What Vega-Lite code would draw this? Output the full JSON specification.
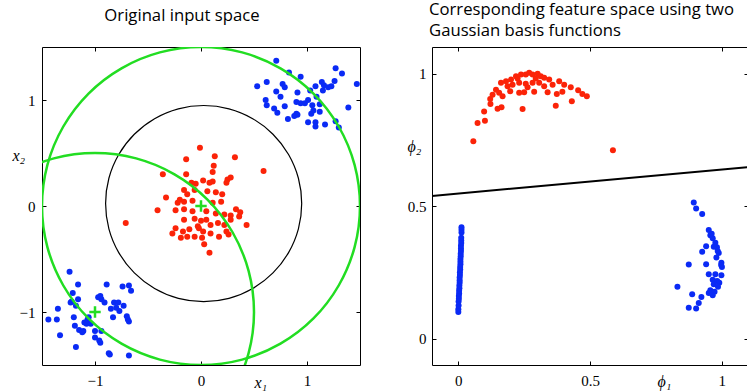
{
  "$schema": "https://vega.github.io/schema/vega-lite/v6.json",
  "background": "white",
  "padding": {"left": 11, "top": 1, "right": 0, "bottom": 0},
  "bounds": "flush",
  "spacing": 72,
  "config": {
    "view": {"stroke": "black", "strokeWidth": 1},
    "axis": {"domain": false, "grid": false, "tickColor": "black", "tickWidth": 1, "labelFont": "Liberation Serif", "labelFontSize": 15, "labelColor": "black", "titleFont": "Liberation Serif", "titleFontStyle": "italic", "titleFontWeight": "normal", "titleFontSize": 16, "titleColor": "black"},
    "title": {"font": "Open Sans", "fontSize": 16.7, "fontWeight": "normal", "color": "black", "frame": "group"}
  },
  "datasets": {
    "leftPts": [
      {"x": -0.01, "y": 0.55, "c": "r"}, {"x": 0.13, "y": 0.47, "c": "r"}, {"x": 0.32, "y": 0.46, "c": "r"}, {"x": -0.14, "y": 0.44, "c": "r"}, {"x": 0.59, "y": 0.33, "c": "r"}, {"x": 0.12, "y": 0.38, "c": "r"}, {"x": 0.11, "y": 0.32, "c": "r"}, {"x": -0.36, "y": 0.30, "c": "r"}, {"x": -0.14, "y": 0.30, "c": "r"}, {"x": 0.25, "y": 0.25, "c": "r"}, {"x": 0.24, "y": 0.22, "c": "r"}, {"x": 0.11, "y": 0.23, "c": "r"}, {"x": 0.02, "y": 0.24, "c": "r"}, {"x": -0.05, "y": 0.21, "c": "r"}, {"x": -0.09, "y": 0.22, "c": "r"}, {"x": -0.16, "y": 0.15, "c": "r"}, {"x": -0.06, "y": 0.15, "c": "r"}, {"x": 0.06, "y": 0.14, "c": "r"}, {"x": 0.14, "y": 0.13, "c": "r"}, {"x": 0.20, "y": 0.11, "c": "r"}, {"x": -0.33, "y": 0.08, "c": "r"}, {"x": -0.20, "y": 0.06, "c": "r"}, {"x": -0.16, "y": 0.04, "c": "r"}, {"x": -0.08, "y": 0.05, "c": "r"}, {"x": 0.19, "y": 0.04, "c": "r"}, {"x": 0.11, "y": 0.03, "c": "r"}, {"x": -0.41, "y": -0.04, "c": "r"}, {"x": -0.24, "y": -0.04, "c": "r"}, {"x": -0.16, "y": -0.03, "c": "r"}, {"x": -0.08, "y": -0.05, "c": "r"}, {"x": 0.05, "y": -0.05, "c": "r"}, {"x": 0.14, "y": -0.07, "c": "r"}, {"x": 0.22, "y": -0.08, "c": "r"}, {"x": 0.33, "y": -0.03, "c": "r"}, {"x": 0.37, "y": -0.06, "c": "r"}, {"x": 0.28, "y": -0.09, "c": "r"}, {"x": 0.36, "y": -0.10, "c": "r"}, {"x": -0.16, "y": -0.13, "c": "r"}, {"x": -0.06, "y": -0.12, "c": "r"}, {"x": 0.00, "y": -0.14, "c": "r"}, {"x": 0.05, "y": -0.13, "c": "r"}, {"x": 0.09, "y": -0.18, "c": "r"}, {"x": 0.16, "y": -0.16, "c": "r"}, {"x": 0.22, "y": -0.18, "c": "r"}, {"x": 0.43, "y": -0.18, "c": "r"}, {"x": -0.24, "y": -0.21, "c": "r"}, {"x": -0.11, "y": -0.22, "c": "r"}, {"x": -0.02, "y": -0.21, "c": "r"}, {"x": 0.02, "y": -0.24, "c": "r"}, {"x": -0.27, "y": -0.26, "c": "r"}, {"x": -0.17, "y": -0.24, "c": "r"}, {"x": 0.09, "y": -0.26, "c": "r"}, {"x": 0.24, "y": -0.24, "c": "r"}, {"x": -0.06, "y": -0.29, "c": "r"}, {"x": 0.01, "y": -0.30, "c": "r"}, {"x": -0.19, "y": -0.30, "c": "r"}, {"x": 0.17, "y": -0.29, "c": "r"}, {"x": 0.26, "y": -0.27, "c": "r"}, {"x": 0.03, "y": -0.36, "c": "r"}, {"x": -0.71, "y": -0.16, "c": "r"}, {"x": 0.08, "y": -0.44, "c": "r"}, {"x": 0.28, "y": 0.27, "c": "r"}, {"x": 0.08, "y": 0.22, "c": "r"}, {"x": -0.13, "y": 0.11, "c": "r"}, {"x": -0.22, "y": 0.03, "c": "r"}, {"x": 0.28, "y": -0.13, "c": "r"}, {"x": -0.03, "y": -0.19, "c": "r"}, {"x": -0.13, "y": -0.29, "c": "r"},
      {"x": 0.71, "y": 1.37, "c": "b"}, {"x": 0.83, "y": 1.26, "c": "b"}, {"x": 0.94, "y": 1.22, "c": "b"}, {"x": 0.53, "y": 1.13, "c": "b"}, {"x": 0.62, "y": 1.17, "c": "b"}, {"x": 0.77, "y": 1.15, "c": "b"}, {"x": 0.79, "y": 1.12, "c": "b"}, {"x": 0.71, "y": 1.08, "c": "b"}, {"x": 0.75, "y": 1.03, "c": "b"}, {"x": 0.61, "y": 1.00, "c": "b"}, {"x": 0.62, "y": 0.95, "c": "b"}, {"x": 0.69, "y": 0.92, "c": "b"}, {"x": 0.72, "y": 0.88, "c": "b"}, {"x": 0.79, "y": 0.94, "c": "b"}, {"x": 0.91, "y": 1.07, "c": "b"}, {"x": 0.90, "y": 0.98, "c": "b"}, {"x": 0.94, "y": 0.97, "c": "b"}, {"x": 0.98, "y": 0.97, "c": "b"}, {"x": 1.01, "y": 1.00, "c": "b"}, {"x": 1.03, "y": 1.09, "c": "b"}, {"x": 1.08, "y": 1.13, "c": "b"}, {"x": 1.09, "y": 1.03, "c": "b"}, {"x": 1.05, "y": 0.95, "c": "b"}, {"x": 1.12, "y": 0.96, "c": "b"}, {"x": 1.14, "y": 1.17, "c": "b"}, {"x": 1.16, "y": 1.14, "c": "b"}, {"x": 1.15, "y": 1.09, "c": "b"}, {"x": 1.20, "y": 1.12, "c": "b"}, {"x": 1.23, "y": 1.13, "c": "b"}, {"x": 1.26, "y": 1.18, "c": "b"}, {"x": 1.27, "y": 1.30, "c": "b"}, {"x": 1.33, "y": 1.25, "c": "b"}, {"x": 1.47, "y": 1.15, "c": "b"}, {"x": 1.39, "y": 0.93, "c": "b"}, {"x": 1.06, "y": 0.90, "c": "b"}, {"x": 1.04, "y": 0.87, "c": "b"}, {"x": 0.90, "y": 0.87, "c": "b"}, {"x": 0.91, "y": 0.86, "c": "b"}, {"x": 0.88, "y": 0.85, "c": "b"}, {"x": 0.82, "y": 0.82, "c": "b"}, {"x": 1.01, "y": 0.79, "c": "b"}, {"x": 1.08, "y": 0.79, "c": "b"}, {"x": 1.08, "y": 0.75, "c": "b"}, {"x": 1.17, "y": 0.77, "c": "b"}, {"x": 1.27, "y": 0.80, "c": "b"}, {"x": 1.30, "y": 0.74, "c": "b"}, {"x": 1.12, "y": 0.89, "c": "b"},
      {"x": -1.24, "y": -0.62, "c": "b"}, {"x": -1.16, "y": -0.74, "c": "b"}, {"x": -1.21, "y": -0.82, "c": "b"}, {"x": -1.16, "y": -0.88, "c": "b"}, {"x": -1.23, "y": -0.91, "c": "b"}, {"x": -1.18, "y": -0.94, "c": "b"}, {"x": -1.35, "y": -0.97, "c": "b"}, {"x": -1.44, "y": -1.07, "c": "b"}, {"x": -1.36, "y": -1.07, "c": "b"}, {"x": -1.20, "y": -1.05, "c": "b"}, {"x": -1.33, "y": -1.22, "c": "b"}, {"x": -1.18, "y": -1.33, "c": "b"}, {"x": -1.15, "y": -1.17, "c": "b"}, {"x": -1.11, "y": -1.18, "c": "b"}, {"x": -1.07, "y": -1.07, "c": "b"}, {"x": -1.08, "y": -1.11, "c": "b"}, {"x": -1.04, "y": -1.11, "c": "b"}, {"x": -1.00, "y": -1.18, "c": "b"}, {"x": -1.00, "y": -1.24, "c": "b"}, {"x": -0.96, "y": -1.27, "c": "b"}, {"x": -0.94, "y": -1.18, "c": "b"}, {"x": -0.97, "y": -0.86, "c": "b"}, {"x": -0.94, "y": -0.88, "c": "b"}, {"x": -0.89, "y": -0.74, "c": "b"}, {"x": -0.91, "y": -0.91, "c": "b"}, {"x": -0.85, "y": -0.97, "c": "b"}, {"x": -0.82, "y": -0.91, "c": "b"}, {"x": -0.78, "y": -0.91, "c": "b"}, {"x": -0.77, "y": -0.99, "c": "b"}, {"x": -0.83, "y": -1.05, "c": "b"}, {"x": -0.74, "y": -0.76, "c": "b"}, {"x": -0.68, "y": -0.75, "c": "b"}, {"x": -0.66, "y": -0.80, "c": "b"}, {"x": -0.70, "y": -1.04, "c": "b"}, {"x": -0.68, "y": -1.09, "c": "b"}, {"x": -0.86, "y": -1.40, "c": "b"}, {"x": -0.68, "y": -1.41, "c": "b"}, {"x": -0.87, "y": -1.39, "c": "b"}, {"x": -0.80, "y": -0.96, "c": "b"}, {"x": -1.12, "y": -1.19, "c": "b"}, {"x": -0.95, "y": -1.29, "c": "b"}, {"x": -1.19, "y": -1.13, "c": "b"}, {"x": -1.10, "y": -1.10, "c": "b"}, {"x": -1.06, "y": -1.05, "c": "b"}, {"x": -0.95, "y": -0.85, "c": "b"}, {"x": -0.73, "y": -0.94, "c": "b"}, {"x": -0.69, "y": -1.07, "c": "b"}, {"x": -1.22, "y": -0.90, "c": "b"}
    ],
    "greenCircles": [
      {"circle": "A", "i": 0, "x": 1.5, "y": 0}, {"circle": "A", "i": 1, "x": 1.449, "y": 0.388}, {"circle": "A", "i": 2, "x": 1.299, "y": 0.75}, {"circle": "A", "i": 3, "x": 1.061, "y": 1.061}, {"circle": "A", "i": 4, "x": 0.75, "y": 1.299}, {"circle": "A", "i": 5, "x": 0.388, "y": 1.449}, {"circle": "A", "i": 6, "x": 0, "y": 1.5}, {"circle": "A", "i": 7, "x": -0.388, "y": 1.449}, {"circle": "A", "i": 8, "x": -0.75, "y": 1.299}, {"circle": "A", "i": 9, "x": -1.061, "y": 1.061}, {"circle": "A", "i": 10, "x": -1.299, "y": 0.75}, {"circle": "A", "i": 11, "x": -1.449, "y": 0.388}, {"circle": "A", "i": 12, "x": -1.5, "y": 0}, {"circle": "A", "i": 13, "x": -1.449, "y": -0.388}, {"circle": "A", "i": 14, "x": -1.299, "y": -0.75}, {"circle": "A", "i": 15, "x": -1.061, "y": -1.061}, {"circle": "A", "i": 16, "x": -0.75, "y": -1.299}, {"circle": "A", "i": 17, "x": -0.388, "y": -1.449}, {"circle": "A", "i": 18, "x": 0, "y": -1.5}, {"circle": "A", "i": 19, "x": 0.388, "y": -1.449}, {"circle": "A", "i": 20, "x": 0.75, "y": -1.299}, {"circle": "A", "i": 21, "x": 1.061, "y": -1.061}, {"circle": "A", "i": 22, "x": 1.299, "y": -0.75}, {"circle": "A", "i": 23, "x": 1.449, "y": -0.388},
      {"circle": "B", "i": 0, "x": 0.5, "y": -1}, {"circle": "B", "i": 1, "x": 0.449, "y": -0.612}, {"circle": "B", "i": 2, "x": 0.299, "y": -0.25}, {"circle": "B", "i": 3, "x": 0.061, "y": 0.061}, {"circle": "B", "i": 4, "x": -0.25, "y": 0.299}, {"circle": "B", "i": 5, "x": -0.612, "y": 0.449}, {"circle": "B", "i": 6, "x": -1, "y": 0.5}, {"circle": "B", "i": 7, "x": -1.388, "y": 0.449}, {"circle": "B", "i": 8, "x": -1.75, "y": 0.299}, {"circle": "B", "i": 9, "x": -2.061, "y": 0.061}, {"circle": "B", "i": 10, "x": -2.299, "y": -0.25}, {"circle": "B", "i": 11, "x": -2.449, "y": -0.612}, {"circle": "B", "i": 12, "x": -2.5, "y": -1}, {"circle": "B", "i": 13, "x": -2.449, "y": -1.388}, {"circle": "B", "i": 14, "x": -2.299, "y": -1.75}, {"circle": "B", "i": 15, "x": -2.061, "y": -2.061}, {"circle": "B", "i": 16, "x": -1.75, "y": -2.299}, {"circle": "B", "i": 17, "x": -1.388, "y": -2.449}, {"circle": "B", "i": 18, "x": -1, "y": -2.5}, {"circle": "B", "i": 19, "x": -0.612, "y": -2.449}, {"circle": "B", "i": 20, "x": -0.25, "y": -2.299}, {"circle": "B", "i": 21, "x": 0.061, "y": -2.061}, {"circle": "B", "i": 22, "x": 0.299, "y": -1.75}, {"circle": "B", "i": 23, "x": 0.449, "y": -1.388}
    ],
    "blackCircle": [
      {"i": 0, "x": 0.950, "y": 0.023}, {"i": 1, "x": 0.919, "y": 0.262}, {"i": 2, "x": 0.826, "y": 0.486}, {"i": 3, "x": 0.679, "y": 0.677}, {"i": 4, "x": 0.488, "y": 0.824}, {"i": 5, "x": 0.264, "y": 0.917}, {"i": 6, "x": 0.025, "y": 0.948}, {"i": 7, "x": -0.214, "y": 0.917}, {"i": 8, "x": -0.438, "y": 0.824}, {"i": 9, "x": -0.629, "y": 0.677}, {"i": 10, "x": -0.776, "y": 0.486}, {"i": 11, "x": -0.869, "y": 0.262}, {"i": 12, "x": -0.900, "y": 0.023}, {"i": 13, "x": -0.869, "y": -0.216}, {"i": 14, "x": -0.776, "y": -0.440}, {"i": 15, "x": -0.629, "y": -0.631}, {"i": 16, "x": -0.438, "y": -0.778}, {"i": 17, "x": -0.214, "y": -0.871}, {"i": 18, "x": 0.025, "y": -0.902}, {"i": 19, "x": 0.264, "y": -0.871}, {"i": 20, "x": 0.488, "y": -0.778}, {"i": 21, "x": 0.679, "y": -0.631}, {"i": 22, "x": 0.826, "y": -0.440}, {"i": 23, "x": 0.919, "y": -0.216}
    ],
    "centers": [{"x": 0, "y": 0}, {"x": -1, "y": -1}],
    "rightPts": [
      {"p1": 0.057, "p2": 0.744, "c": "r"}, {"p1": 0.073, "p2": 0.813, "c": "r"}, {"p1": 0.101, "p2": 0.822, "c": "r"}, {"p1": 0.098, "p2": 0.857, "c": "r"}, {"p1": 0.149, "p2": 0.867, "c": "r"}, {"p1": 0.164, "p2": 0.873, "c": "r"}, {"p1": 0.244, "p2": 0.866, "c": "r"}, {"p1": 0.370, "p2": 0.878, "c": "r"}, {"p1": 0.431, "p2": 0.895, "c": "r"}, {"p1": 0.121, "p2": 0.904, "c": "r"}, {"p1": 0.130, "p2": 0.920, "c": "r"}, {"p1": 0.143, "p2": 0.939, "c": "r"}, {"p1": 0.155, "p2": 0.927, "c": "r"}, {"p1": 0.168, "p2": 0.914, "c": "r"}, {"p1": 0.197, "p2": 0.933, "c": "r"}, {"p1": 0.231, "p2": 0.927, "c": "r"}, {"p1": 0.250, "p2": 0.929, "c": "r"}, {"p1": 0.288, "p2": 0.931, "c": "r"}, {"p1": 0.339, "p2": 0.929, "c": "r"}, {"p1": 0.374, "p2": 0.923, "c": "r"}, {"p1": 0.162, "p2": 0.965, "c": "r"}, {"p1": 0.181, "p2": 0.971, "c": "r"}, {"p1": 0.200, "p2": 0.977, "c": "r"}, {"p1": 0.219, "p2": 0.990, "c": "r"}, {"p1": 0.238, "p2": 0.996, "c": "r"}, {"p1": 0.256, "p2": 0.996, "c": "r"}, {"p1": 0.269, "p2": 1.003, "c": "r"}, {"p1": 0.282, "p2": 0.996, "c": "r"}, {"p1": 0.301, "p2": 0.999, "c": "r"}, {"p1": 0.313, "p2": 0.990, "c": "r"}, {"p1": 0.326, "p2": 0.984, "c": "r"}, {"p1": 0.345, "p2": 0.977, "c": "r"}, {"p1": 0.206, "p2": 0.958, "c": "r"}, {"p1": 0.231, "p2": 0.965, "c": "r"}, {"p1": 0.256, "p2": 0.961, "c": "r"}, {"p1": 0.282, "p2": 0.965, "c": "r"}, {"p1": 0.307, "p2": 0.965, "c": "r"}, {"p1": 0.225, "p2": 0.981, "c": "r"}, {"p1": 0.294, "p2": 0.981, "c": "r"}, {"p1": 0.187, "p2": 0.952, "c": "r"}, {"p1": 0.263, "p2": 0.948, "c": "r"}, {"p1": 0.326, "p2": 0.952, "c": "r"}, {"p1": 0.358, "p2": 0.958, "c": "r"}, {"p1": 0.383, "p2": 0.971, "c": "r"}, {"p1": 0.402, "p2": 0.958, "c": "r"}, {"p1": 0.427, "p2": 0.948, "c": "r"}, {"p1": 0.455, "p2": 0.937, "c": "r"}, {"p1": 0.471, "p2": 0.923, "c": "r"}, {"p1": 0.488, "p2": 0.914, "c": "r"}, {"p1": 0.395, "p2": 0.931, "c": "r"}, {"p1": 0.587, "p2": 0.710, "c": "r"}, {"p1": 0.122, "p2": 0.885, "c": "r"},
      {"p1": 0.000, "p2": 0.100, "c": "b"}, {"p1": 0.000, "p2": 0.110, "c": "b"}, {"p1": 0.001, "p2": 0.125, "c": "b"}, {"p1": 0.001, "p2": 0.140, "c": "b"}, {"p1": 0.002, "p2": 0.150, "c": "b"}, {"p1": 0.002, "p2": 0.160, "c": "b"}, {"p1": 0.003, "p2": 0.170, "c": "b"}, {"p1": 0.003, "p2": 0.180, "c": "b"}, {"p1": 0.004, "p2": 0.190, "c": "b"}, {"p1": 0.004, "p2": 0.200, "c": "b"}, {"p1": 0.005, "p2": 0.210, "c": "b"}, {"p1": 0.005, "p2": 0.220, "c": "b"}, {"p1": 0.005, "p2": 0.230, "c": "b"}, {"p1": 0.006, "p2": 0.240, "c": "b"}, {"p1": 0.006, "p2": 0.250, "c": "b"}, {"p1": 0.007, "p2": 0.260, "c": "b"}, {"p1": 0.007, "p2": 0.270, "c": "b"}, {"p1": 0.008, "p2": 0.280, "c": "b"}, {"p1": 0.008, "p2": 0.290, "c": "b"}, {"p1": 0.008, "p2": 0.300, "c": "b"}, {"p1": 0.009, "p2": 0.310, "c": "b"}, {"p1": 0.009, "p2": 0.320, "c": "b"}, {"p1": 0.010, "p2": 0.330, "c": "b"}, {"p1": 0.010, "p2": 0.340, "c": "b"}, {"p1": 0.010, "p2": 0.350, "c": "b"}, {"p1": 0.011, "p2": 0.360, "c": "b"}, {"p1": 0.011, "p2": 0.370, "c": "b"}, {"p1": 0.011, "p2": 0.380, "c": "b"}, {"p1": 0.012, "p2": 0.400, "c": "b"}, {"p1": 0.012, "p2": 0.410, "c": "b"}, {"p1": 0.012, "p2": 0.420, "c": "b"},
      {"p1": 0.894, "p2": 0.513, "c": "b"}, {"p1": 0.903, "p2": 0.491, "c": "b"}, {"p1": 0.926, "p2": 0.470, "c": "b"}, {"p1": 0.951, "p2": 0.409, "c": "b"}, {"p1": 0.957, "p2": 0.390, "c": "b"}, {"p1": 0.966, "p2": 0.378, "c": "b"}, {"p1": 0.976, "p2": 0.361, "c": "b"}, {"p1": 0.941, "p2": 0.348, "c": "b"}, {"p1": 0.926, "p2": 0.327, "c": "b"}, {"p1": 0.982, "p2": 0.344, "c": "b"}, {"p1": 0.970, "p2": 0.346, "c": "b"}, {"p1": 0.989, "p2": 0.323, "c": "b"}, {"p1": 0.980, "p2": 0.306, "c": "b"}, {"p1": 0.999, "p2": 0.286, "c": "b"}, {"p1": 1.001, "p2": 0.270, "c": "b"}, {"p1": 0.875, "p2": 0.279, "c": "b"}, {"p1": 0.941, "p2": 0.280, "c": "b"}, {"p1": 0.951, "p2": 0.242, "c": "b"}, {"p1": 0.976, "p2": 0.242, "c": "b"}, {"p1": 0.999, "p2": 0.239, "c": "b"}, {"p1": 0.966, "p2": 0.222, "c": "b"}, {"p1": 0.983, "p2": 0.217, "c": "b"}, {"p1": 0.991, "p2": 0.210, "c": "b"}, {"p1": 0.970, "p2": 0.205, "c": "b"}, {"p1": 0.957, "p2": 0.182, "c": "b"}, {"p1": 0.951, "p2": 0.172, "c": "b"}, {"p1": 0.973, "p2": 0.176, "c": "b"}, {"p1": 0.966, "p2": 0.163, "c": "b"}, {"p1": 0.832, "p2": 0.195, "c": "b"}, {"p1": 0.888, "p2": 0.167, "c": "b"}, {"p1": 0.923, "p2": 0.157, "c": "b"}, {"p1": 0.913, "p2": 0.134, "c": "b"}, {"p1": 0.903, "p2": 0.113, "c": "b"}, {"p1": 0.875, "p2": 0.116, "c": "b"}, {"p1": 0.986, "p2": 0.195, "c": "b"}, {"p1": 0.998, "p2": 0.277, "c": "b"}, {"p1": 0.985, "p2": 0.330, "c": "b"}, {"p1": 0.962, "p2": 0.395, "c": "b"}
    ],
    "boundary": [{"p1": -0.1, "p2": 0.538}, {"p1": 1.1, "p2": 0.647}]
  },
  "hconcat": [
    {
      "width": 318,
      "height": 318,
      "title": {"text": "Original input space", "anchor": "middle", "dx": -19, "offset": 9, "baseline": "alphabetic"},
      "layer": [
        {
          "data": {"name": "leftPts"},
          "mark": {"type": "circle", "size": 36, "opacity": 1},
          "encoding": {
            "x": {"field": "x", "type": "quantitative", "scale": {"domain": [-1.5, 1.5], "nice": false, "zero": false}, "axis": {"orient": "bottom", "values": [-1, 0, 1], "format": "~g", "title": "x₁", "offset": -4, "tickSize": 4, "labelPadding": 8, "titleX": 212, "titleY": 26, "titleAlign": "left", "titleBaseline": "alphabetic"}},
            "y": {"field": "y", "type": "quantitative", "scale": {"domain": [-1.5, 1.5], "nice": false, "zero": false}, "axis": {"orient": "left", "values": [-1, 0, 1], "format": "~g", "title": "x₂", "offset": -4, "tickSize": 4, "labelPadding": 7, "titleX": -34, "titleY": 108, "titleAngle": 0, "titleAlign": "left", "titleBaseline": "middle"}},
            "color": {"field": "c", "type": "nominal", "scale": {"domain": ["r", "b"], "range": ["#fb2308", "#0a2af5"]}, "legend": null}
          }
        },
        {
          "data": {"name": "blackCircle"},
          "mark": {"type": "line", "clip": true, "color": "black", "strokeWidth": 1.2, "interpolate": "cardinal-closed"},
          "encoding": {
            "x": {"field": "x", "type": "quantitative", "axis": null},
            "y": {"field": "y", "type": "quantitative", "axis": null},
            "order": {"field": "i"}
          }
        },
        {
          "data": {"name": "greenCircles"},
          "mark": {"type": "line", "clip": true, "color": "#22dd22", "strokeWidth": 2.5, "interpolate": "cardinal-closed"},
          "encoding": {
            "x": {"field": "x", "type": "quantitative", "axis": {"orient": "top", "values": [-1, 0, 1], "labels": false, "title": null, "offset": -4, "tickSize": 4}},
            "y": {"field": "y", "type": "quantitative", "axis": {"orient": "right", "values": [-1, 0, 1], "labels": false, "title": null, "offset": -4, "tickSize": 4}},
            "detail": {"field": "circle"},
            "order": {"field": "i"}
          }
        },
        {
          "data": {"name": "centers"},
          "mark": {"type": "point", "shape": "M-1,0L1,0M0,-1L0,1", "filled": false, "stroke": "#22dd22", "strokeWidth": 2.5, "size": 130, "opacity": 1},
          "encoding": {
            "x": {"field": "x", "type": "quantitative", "axis": null},
            "y": {"field": "y", "type": "quantitative", "axis": null}
          }
        }
      ],
      "resolve": {"axis": {"x": "independent", "y": "independent"}}
    },
    {
      "width": 316,
      "height": 318,
      "title": {"text": ["Corresponding feature space using two", "Gaussian basis functions"], "anchor": "start", "dx": -3, "offset": -10, "baseline": "bottom", "lineHeight": 21},
      "layer": [
        {
          "data": {"name": "rightPts"},
          "mark": {"type": "circle", "size": 36, "opacity": 1},
          "encoding": {
            "x": {"field": "p1", "type": "quantitative", "scale": {"domain": [-0.1, 1.1], "nice": false, "zero": false}, "axis": {"orient": "bottom", "values": [0, 0.5, 1], "format": "~g", "title": "ϕ₁", "offset": -4, "tickSize": 4, "labelPadding": 8, "titleX": 225, "titleY": 25, "titleAlign": "left", "titleBaseline": "alphabetic"}},
            "y": {"field": "p2", "type": "quantitative", "scale": {"domain": [-0.1, 1.1], "nice": false, "zero": false}, "axis": {"orient": "left", "values": [0, 0.5, 1], "format": "~g", "title": "ϕ₂", "offset": -4, "tickSize": 4, "labelPadding": 6, "titleX": -29, "titleY": 99, "titleAngle": 0, "titleAlign": "left", "titleBaseline": "middle"}},
            "color": {"field": "c", "type": "nominal", "scale": {"domain": ["r", "b"], "range": ["#fb2308", "#0a2af5"]}, "legend": null}
          }
        },
        {
          "data": {"name": "boundary"},
          "mark": {"type": "line", "clip": true, "color": "black", "strokeWidth": 2},
          "encoding": {
            "x": {"field": "p1", "type": "quantitative", "axis": {"orient": "top", "values": [0, 0.5, 1], "labels": false, "title": null, "offset": -4, "tickSize": 4}},
            "y": {"field": "p2", "type": "quantitative", "axis": {"orient": "right", "values": [0, 0.5, 1], "labels": false, "title": null, "offset": -4, "tickSize": 4}}
          }
        }
      ],
      "resolve": {"axis": {"x": "independent", "y": "independent"}}
    }
  ]
}
